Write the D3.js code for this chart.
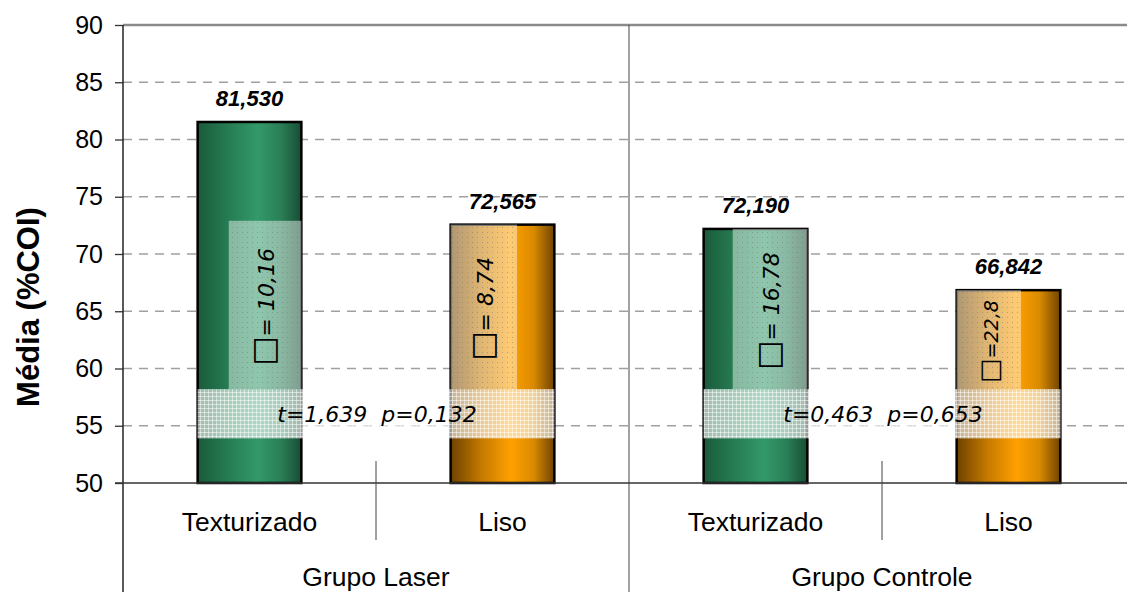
<!DOCTYPE html>
<html>
  <head>
    <meta charset="utf-8">
    <title>Média (%COI)</title>
    <script type="text/javascript" src="https://cdn.jsdelivr.net/npm/d3@7"></script>
    <style>
      body { margin: 0; background: #fff; }
      text { font-family: "Liberation Sans", Arial, sans-serif; }
      .hand { font-family: "DejaVu Sans", sans-serif; font-style: italic; }
    </style>
  </head>
  <body>
    <script type="text/javascript">
      // data
      var categories = ["Texturizado", "Liso", "Texturizado", "Liso"];
      var groups = ["Grupo Laser", "Grupo Controle"];
      var means = [81.530, 72.565, 72.190, 66.842];
      var meanLabels = ["81,530", "72,565", "72,190", "66,842"];
      var sdLabels = ["= 10,16", "= 8,74", "= 16,78", "=22,8"];
      var sdBoxTop = [72.9, 72.565, 72.190, 66.842];
      var testLabels = ["t=1,639  p=0,132", "t=0,463  p=0,653"];
      var yTicks = [50, 55, 60, 65, 70, 75, 80, 85, 90];

      var w = 1127
      var h = 592

      var svg = d3.select("body").append("svg");
      svg.attr("width", w)
         .attr("height", h);

      var y = d3.scaleLinear().domain([50, 90]).range([483, 25]);
      var x = d3.scaleBand().domain(d3.range(4)).range([123, 1135]).padding(0);
      var bw = x.bandwidth() * 0.41;
      function bx(i) { return x(i) + (x.bandwidth() - bw) / 2; }

      // gradients
      var defs = svg.append("defs");
      function grad(id, stops) {
        var g = defs.append("linearGradient").attr("id", id)
          .attr("x1", "0%").attr("x2", "100%").attr("y1", "0%").attr("y2", "0%");
        stops.forEach(function(s) {
          g.append("stop").attr("offset", s[0]).attr("stop-color", s[1]);
        });
      }
      grad("green", [["0%", "#1a5a3b"], ["30%", "#267d53"], ["58%", "#32996a"], ["80%", "#2a7f57"], ["100%", "#174d34"]]);
      grad("orange", [["0%", "#6e4100"], ["30%", "#c67a00"], ["58%", "#ffa000"], ["80%", "#d98a00"], ["100%", "#6e4300"]]);

      var dots = defs.append("pattern").attr("id", "dots")
        .attr("width", 5).attr("height", 5).attr("patternUnits", "userSpaceOnUse");
      dots.append("rect").attr("width", 5).attr("height", 5).attr("fill", "#fff").attr("opacity", 0.45);
      dots.append("rect").attr("x", 2).attr("y", 2).attr("width", 1).attr("height", 1).attr("fill", "#777").attr("opacity", 0.5);

      var grid = defs.append("pattern").attr("id", "grid")
        .attr("width", 4).attr("height", 4).attr("patternUnits", "userSpaceOnUse");
      grid.append("rect").attr("width", 4).attr("height", 4).attr("fill", "#fff").attr("opacity", 0.6);
      grid.append("rect").attr("width", 4).attr("height", 1).attr("fill", "#fff").attr("opacity", 0.5);
      grid.append("rect").attr("width", 1).attr("height", 4).attr("fill", "#fff").attr("opacity", 0.5);

      // gridlines
      svg.selectAll(".grid")
         .data(yTicks.filter(function(d) { return d > 50 && d < 90; }))
         .enter()
         .append("line")
         .attr("x1", 123).attr("x2", w)
         .attr("y1", function(d) { return y(d); })
         .attr("y2", function(d) { return y(d); })
         .attr("stroke", "#a0a0a0")
         .attr("stroke-width", 1.3)
         .attr("stroke-dasharray", "9,7");

      svg.append("line").attr("x1", 123).attr("x2", w)
         .attr("y1", y(90)).attr("y2", y(90))
         .attr("stroke", "#8a8a8a").attr("stroke-width", 2.5);

      // group divider
      svg.append("line").attr("x1", x(2)).attr("x2", x(2))
         .attr("y1", y(90)).attr("y2", h)
         .attr("stroke", "#444").attr("stroke-width", 1);

      // bars
      svg.selectAll(".bar")
         .data(means)
         .enter()
         .append("rect")
         .attr("x", function(d, i) { return bx(i); })
         .attr("y", function(d) { return y(d); })
         .attr("width", bw)
         .attr("height", function(d) { return y(50) - y(d); })
         .attr("fill", function(d, i) { return i % 2 == 0 ? "url(#green)" : "url(#orange)"; })
         .attr("stroke", "#000")
         .attr("stroke-width", 2.5);

      // sd text boxes (textured overlay, right part of green, left part of orange)
      var boxW = [0.70, 0.64, 0.72, 0.62];
      svg.selectAll(".sdbox")
         .data(sdBoxTop)
         .enter()
         .append("rect")
         .attr("x", function(d, i) { return i % 2 == 0 ? bx(i) + bw * (1 - boxW[i]) : bx(i); })
         .attr("y", function(d) { return y(d); })
         .attr("width", function(d, i) { return bw * boxW[i]; })
         .attr("height", function(d) { return y(58.2) - y(d); })
         .attr("fill", "url(#dots)");

      var sd = svg.selectAll(".sdtext")
         .data(sdLabels)
         .enter()
         .append("text")
         .attr("class", "hand")
         .attr("transform", function(d, i) {
           var cx = i % 2 == 0 ? bx(i) + bw * (1 - boxW[i] / 2) : bx(i) + bw * boxW[i] / 2;
           var cy = (y(sdBoxTop[i]) + y(58.2)) / 2 + 2;
           return "translate(" + (cx + 9) + "," + cy + ") rotate(-90)";
         })
         .attr("text-anchor", "middle")
         .attr("font-size", function(d, i) { return i == 3 ? 19 : 22; });
      sd.append("tspan")
         .attr("font-size", function(d, i) { return i == 3 ? 26 : 31; })
         .attr("font-style", "normal")
         .text("\u25A1");
      sd.append("tspan")
         .text(function(d) { return d; });

      // t-test bands
      svg.selectAll(".band")
         .data(testLabels)
         .enter()
         .append("rect")
         .attr("x", function(d, i) { return bx(2 * i); })
         .attr("y", y(58.2))
         .attr("width", function(d, i) { return bx(2 * i + 1) + bw - bx(2 * i); })
         .attr("height", y(53.9) - y(58.2))
         .attr("fill", "url(#grid)");

      svg.selectAll(".ttext")
         .data(testLabels)
         .enter()
         .append("text")
         .attr("class", "hand")
         .attr("x", function(d, i) { return x(2 * i + 1) + 1; })
         .attr("y", y(56.05) + 8)
         .attr("text-anchor", "middle")
         .attr("font-size", 22)
         .attr("xml:space", "preserve")
         .text(function(d) { return d; });

      // value labels
      svg.selectAll(".val")
         .data(meanLabels)
         .enter()
         .append("text")
         .attr("x", function(d, i) { return x(i) + x.bandwidth() / 2; })
         .attr("y", function(d, i) { return y(means[i]) - 16; })
         .attr("text-anchor", "middle")
         .attr("font-size", 22)
         .attr("font-weight", "bold")
         .attr("font-style", "italic")
         .text(function(d) { return d; });

      // y axis
      var yAxis = d3.axisLeft(y).tickValues(yTicks).tickSize(8).tickPadding(12);
      var ya = svg.append("g").attr("transform", "translate(123,0)").call(yAxis);
      ya.select(".domain").remove();
      ya.selectAll("line").attr("stroke", "#333").attr("stroke-width", 1.3);
      ya.selectAll("text").attr("font-size", 25).attr("fill", "#000")
        .attr("font-family", "Liberation Sans, Arial, sans-serif");
      svg.append("line").attr("x1", 123).attr("x2", 123)
         .attr("y1", y(90)).attr("y2", h)
         .attr("stroke", "#222").attr("stroke-width", 1.5);

      // x axis line
      svg.append("line").attr("x1", 115).attr("x2", w)
         .attr("y1", y(50)).attr("y2", y(50))
         .attr("stroke", "#333").attr("stroke-width", 1.5);

      // category separators
      svg.selectAll(".sep")
         .data([1, 3])
         .enter()
         .append("line")
         .attr("x1", function(d) { return x(d); })
         .attr("x2", function(d) { return x(d); })
         .attr("y1", y(50) - 22).attr("y2", y(50) + 57)
         .attr("stroke", "#444").attr("stroke-width", 1);

      svg.selectAll(".cat")
         .data(categories)
         .enter()
         .append("text")
         .attr("x", function(d, i) { return x(i) + x.bandwidth() / 2; })
         .attr("y", 531)
         .attr("text-anchor", "middle")
         .attr("font-size", 26.5)
         .text(function(d) { return d; });

      svg.selectAll(".grp")
         .data(groups)
         .enter()
         .append("text")
         .attr("x", function(d, i) { return x(2 * i + 1); })
         .attr("y", 586)
         .attr("text-anchor", "middle")
         .attr("font-size", 26.5)
         .text(function(d) { return d; });

      // y title
      svg.append("text")
         .attr("transform", "translate(39,307) rotate(-90)")
         .attr("text-anchor", "middle")
         .attr("font-size", 31)
         .attr("font-weight", "bold")
         .text("Média (%COI)");
    </script>
  </body>
</html>
